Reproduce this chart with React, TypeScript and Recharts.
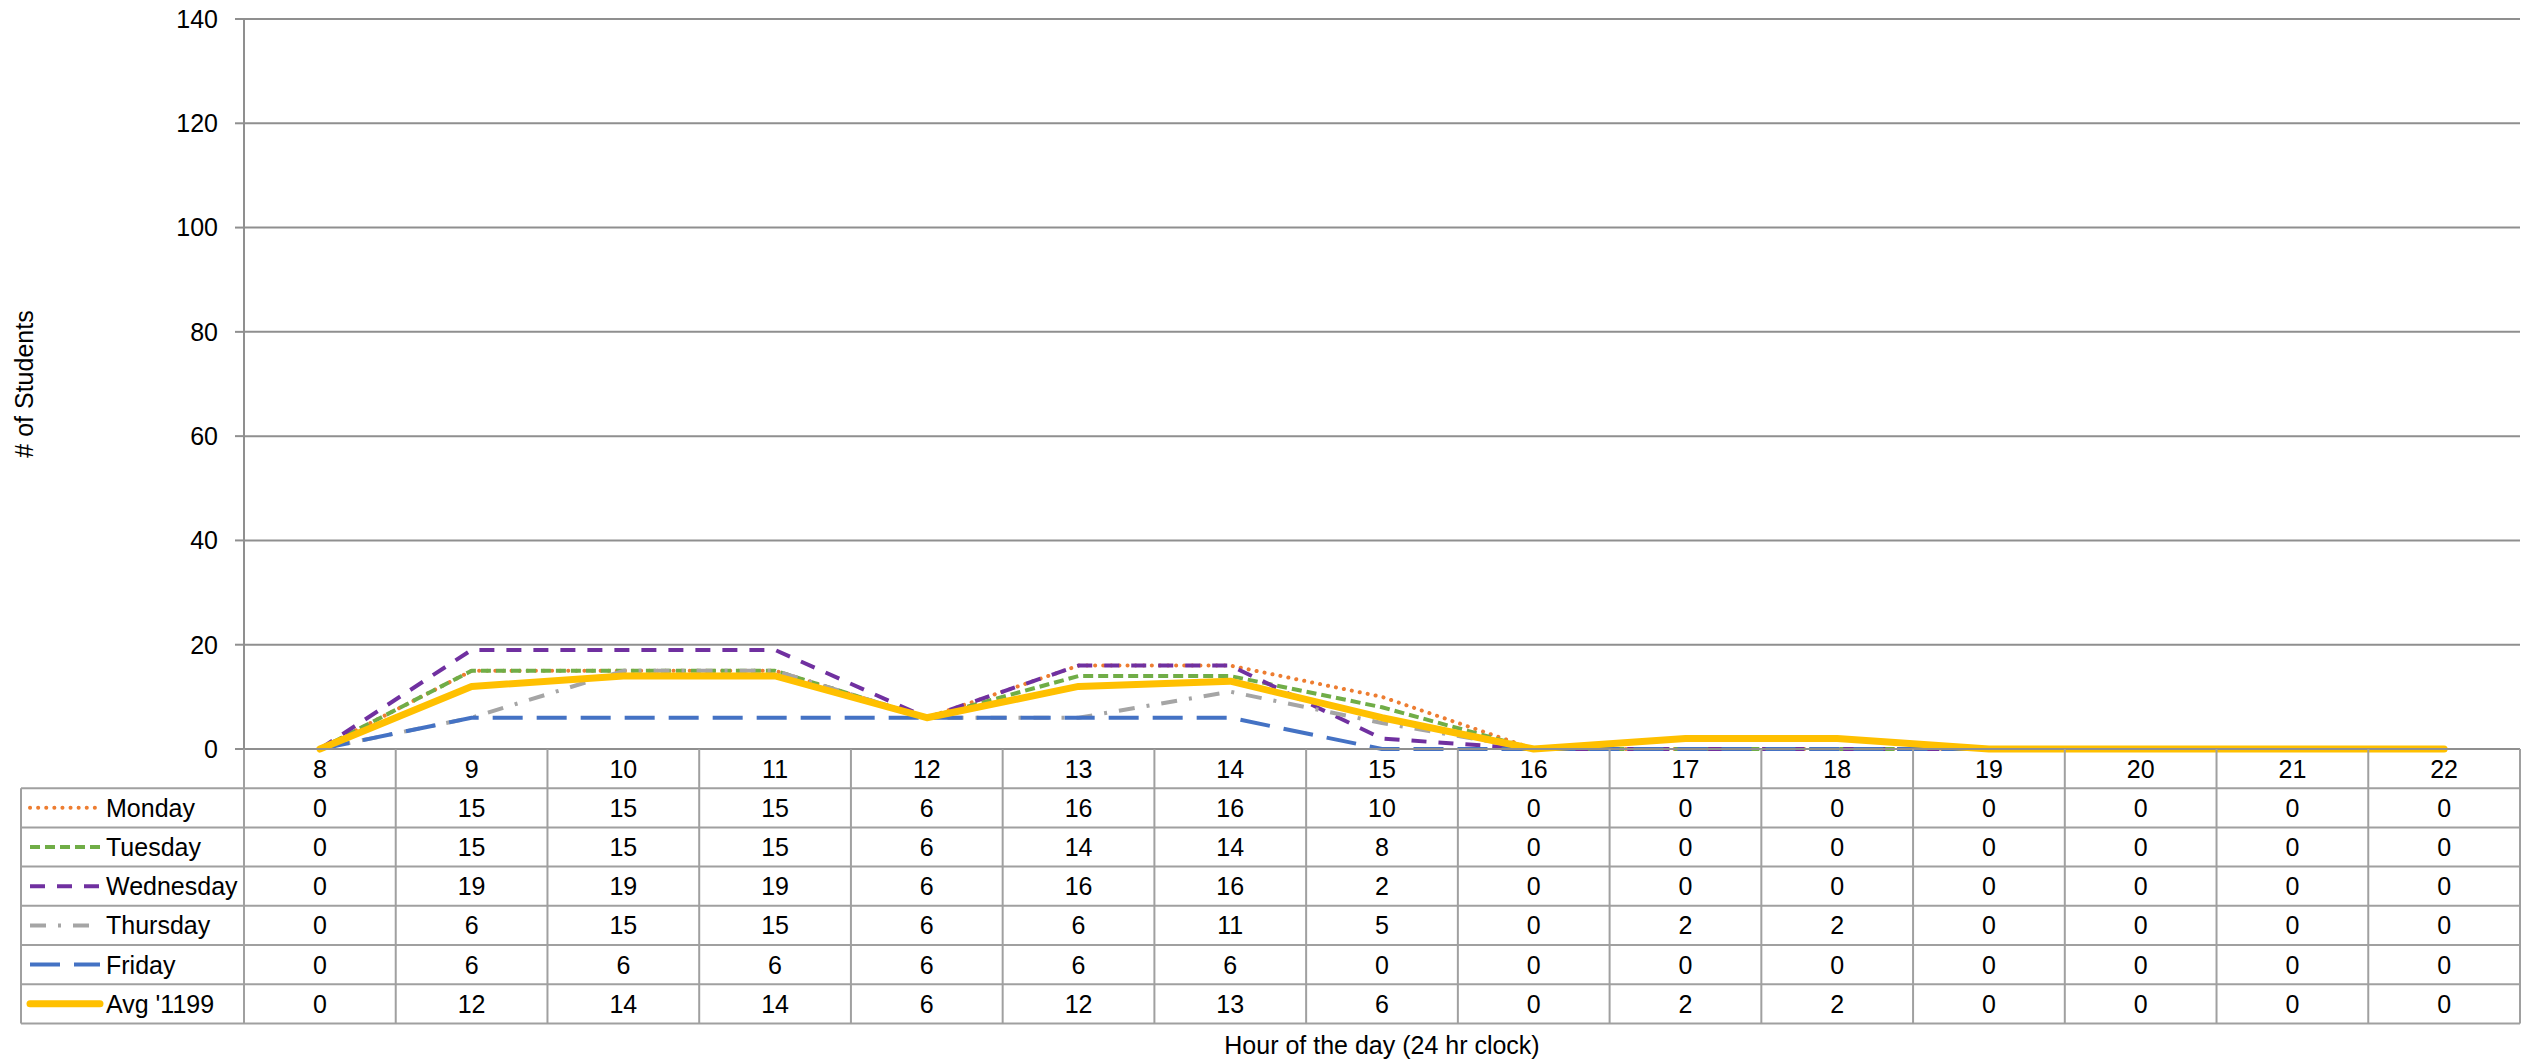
import React from "react";
import { LineChart, Line, XAxis, YAxis, CartesianGrid } from "recharts";

const hours = ["8", "9", "10", "11", "12", "13", "14", "15", "16", "17", "18", "19", "20", "21", "22"];
const monday = [0, 15, 15, 15, 6, 16, 16, 10, 0, 0, 0, 0, 0, 0, 0];
const tuesday = [0, 15, 15, 15, 6, 14, 14, 8, 0, 0, 0, 0, 0, 0, 0];
const wednesday = [0, 19, 19, 19, 6, 16, 16, 2, 0, 0, 0, 0, 0, 0, 0];
const thursday = [0, 6, 15, 15, 6, 6, 11, 5, 0, 2, 2, 0, 0, 0, 0];
const friday = [0, 6, 6, 6, 6, 6, 6, 0, 0, 0, 0, 0, 0, 0, 0];
const avg1199 = [0, 12, 14, 14, 6, 12, 13, 6, 0, 2, 2, 0, 0, 0, 0];
const yTicks = [0, 20, 40, 60, 80, 100, 120, 140];

const W = 2532;
const H = 1060;
const PLOT_LEFT = 244;
const PLOT_RIGHT = 2520;
const PLOT_TOP = 19;
const PLOT_BOTTOM = 749;
const ROW_H = 39.2;
const COL_W = (PLOT_RIGHT - PLOT_LEFT) / hours.length;
const LEGEND_LEFT = 21;
const FONT = "'Liberation Sans', Arial, sans-serif";
const GRID = "#8f8f8f";
const TABLE_LINE = "#a0a0a0";

const series = [
  { key: "monday", name: "Monday", values: monday, color: "#ED7D31", width: 4, dash: "0.1 8", cap: "round" },
  { key: "tuesday", name: "Tuesday", values: tuesday, color: "#70AD47", width: 4, dash: "10 5", cap: "butt" },
  { key: "wednesday", name: "Wednesday", values: wednesday, color: "#7030A0", width: 4, dash: "15 12", cap: "butt" },
  { key: "thursday", name: "Thursday", values: thursday, color: "#A5A5A5", width: 4, dash: "16 12 3 12", cap: "butt" },
  { key: "friday", name: "Friday", values: friday, color: "#4472C4", width: 4, dash: "30 14", cap: "butt" },
  { key: "avg", name: "Avg '1199", values: avg1199, color: "#FFC000", width: 7, dash: undefined, cap: "round" },
];

const data = hours.map((hour, i) => {
  const row: Record<string, string | number> = { hour };
  series.forEach((s) => {
    row[s.key] = s.values[i];
  });
  return row;
});

function TableTick(props: any) {
  const { x, payload } = props;
  const i = hours.indexOf(String(payload.value));
  const tableBottom = PLOT_BOTTOM + ROW_H * (series.length + 1);
  return (
    <g fontFamily={FONT} fontSize={25} fill="#000">
      <line x1={x - COL_W / 2} x2={x - COL_W / 2} y1={PLOT_BOTTOM} y2={tableBottom} stroke={TABLE_LINE} strokeWidth={2} />
      {i === hours.length - 1 && (
        <line x1={x + COL_W / 2} x2={x + COL_W / 2} y1={PLOT_BOTTOM} y2={tableBottom} stroke={TABLE_LINE} strokeWidth={2} />
      )}
      <text x={x} y={PLOT_BOTTOM + ROW_H / 2} textAnchor="middle" dominantBaseline="central">
        {payload.value}
      </text>
      {series.map((s, r) => (
        <text key={s.key} x={x} y={PLOT_BOTTOM + ROW_H * (r + 1) + ROW_H / 2} textAnchor="middle" dominantBaseline="central">
          {s.values[i]}
        </text>
      ))}
      {i === 0 && (
        <g>
          <line x1={LEGEND_LEFT} x2={LEGEND_LEFT} y1={PLOT_BOTTOM + ROW_H} y2={tableBottom} stroke={TABLE_LINE} strokeWidth={2} />
          {series.map((s, r) => (
            <line
              key={"h" + s.key}
              x1={LEGEND_LEFT}
              x2={PLOT_RIGHT}
              y1={PLOT_BOTTOM + ROW_H * (r + 1)}
              y2={PLOT_BOTTOM + ROW_H * (r + 1)}
              stroke={TABLE_LINE}
              strokeWidth={2}
            />
          ))}
          <line x1={LEGEND_LEFT} x2={PLOT_RIGHT} y1={tableBottom} y2={tableBottom} stroke={TABLE_LINE} strokeWidth={2} />
          {series.map((s, r) => {
            const cy = PLOT_BOTTOM + ROW_H * (r + 1) + ROW_H / 2;
            return (
              <g key={"l" + s.key}>
                <line
                  x1={30}
                  x2={100}
                  y1={cy}
                  y2={cy}
                  stroke={s.color}
                  strokeWidth={s.width}
                  strokeDasharray={s.dash}
                  strokeLinecap={s.cap as any}
                />
                <text x={106} y={cy} dominantBaseline="central">
                  {s.name}
                </text>
              </g>
            );
          })}
        </g>
      )}
    </g>
  );
}

export default function App() {
  return (
    <div style={{ position: "absolute", left: 0, top: 0, width: W, height: H, background: "#fff" }}>
      <LineChart width={W} height={H} data={data} margin={{ top: PLOT_TOP, right: W - PLOT_RIGHT, bottom: 0, left: 0 }}>
        <CartesianGrid horizontal vertical={false} stroke={GRID} strokeWidth={2} />
        <XAxis
          dataKey="hour"
          interval={0}
          height={H - PLOT_BOTTOM}
          padding={{ left: COL_W / 2, right: COL_W / 2 }}
          tickLine={false}
          axisLine={{ stroke: GRID, strokeWidth: 2 }}
          tick={(p: any) => <TableTick {...p} />}
          label={{
            content: () => (
              <text x={(PLOT_LEFT + PLOT_RIGHT) / 2} y={1045} textAnchor="middle" dominantBaseline="central" fontFamily={FONT} fontSize={25} fill="#000">
                Hour of the day (24 hr clock)
              </text>
            ),
          }}
        />
        <YAxis
          width={PLOT_LEFT}
          domain={[0, 140]}
          ticks={yTicks}
          interval={0}
          tickSize={9}
          tickMargin={17}
          axisLine={{ stroke: GRID, strokeWidth: 2 }}
          tickLine={{ stroke: GRID, strokeWidth: 2 }}
          tick={{ fontFamily: FONT, fontSize: 25, fill: "#000" }}
          label={{
            content: () => (
              <text
                x={24}
                y={(PLOT_TOP + PLOT_BOTTOM) / 2}
                transform={`rotate(-90 24 ${(PLOT_TOP + PLOT_BOTTOM) / 2})`}
                textAnchor="middle"
                dominantBaseline="central"
                fontFamily={FONT}
                fontSize={25}
                fill="#000"
              >
                # of Students
              </text>
            ),
          }}
        />
        {series.map((s) => (
          <Line
            key={s.key}
            type="linear"
            dataKey={s.key}
            name={s.name}
            stroke={s.color}
            strokeWidth={s.width}
            strokeDasharray={s.dash}
            strokeLinecap={s.cap as any}
            strokeLinejoin="round"
            dot={false}
            activeDot={false}
            isAnimationActive={false}
          />
        ))}
      </LineChart>
    </div>
  );
}
